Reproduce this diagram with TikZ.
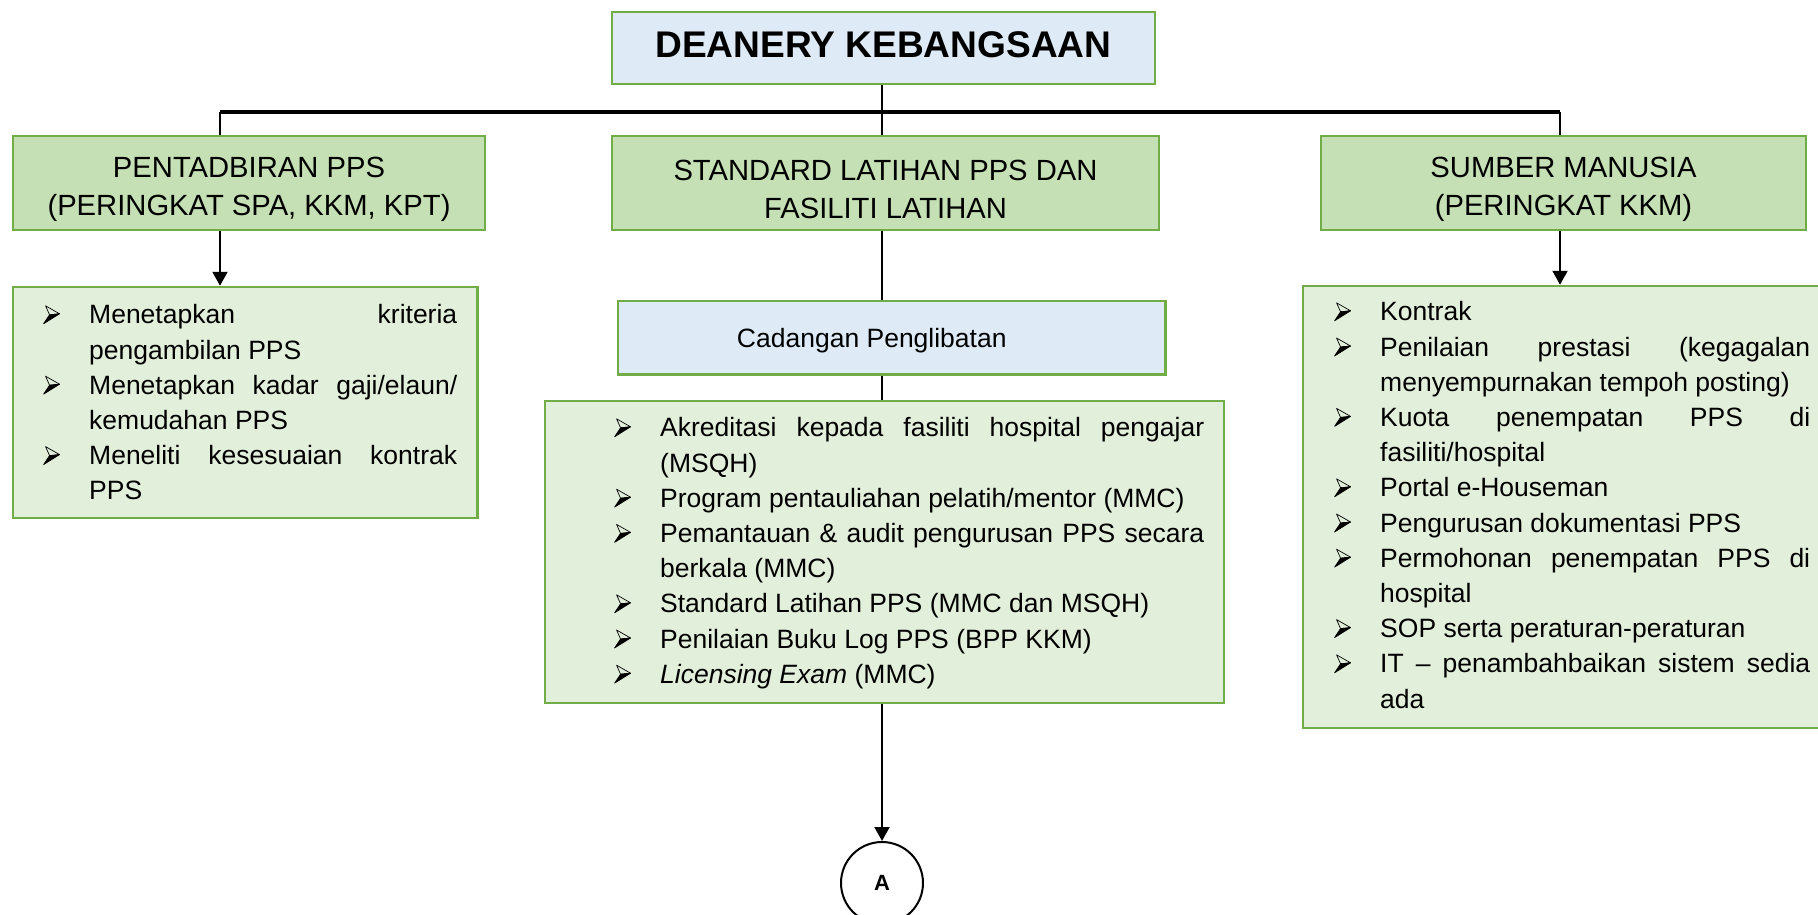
\documentclass[tikz,border=0pt]{standalone}
\usepackage{fontspec}
\setmainfont{Liberation Sans}
\usetikzlibrary{arrows.meta}
\definecolor{headgreen}{HTML}{C5E0B4}
\definecolor{listgreen}{HTML}{E2EFDA}
\definecolor{paleblue}{HTML}{DEEBF7}
\definecolor{edgegreen}{HTML}{70AD47}
\hyphenpenalty=10000
\exhyphenpenalty=10000
\tolerance=10000
\newcommand{\arrowbul}{\makebox[46pt][l]{\tikz[x=1pt, y=1pt, baseline=0pt, line width=0.7pt, line join=round]{%
	\filldraw[black] (0, 0) -- (16, 10) -- (6, 9) -- cycle;
	\draw[black] (2, 18) -- (16, 10) -- (6, 9) -- cycle;}}}
\newcommand{\bul}[1]{\par\noindent\hangindent=46pt\hangafter=1\strut\arrowbul#1\par}
\tikzset{
  headbox/.style={draw=edgegreen, line width=2.5pt, fill=headgreen, align=center, font=\fontsize{29.2}{38.5}\selectfont},
  listbox/.style={draw=edgegreen, line width=2.5pt, fill=listgreen},
  bluebox/.style={draw=edgegreen, line width=2.5pt, fill=paleblue},
  listtext/.style={anchor=north west, inner sep=0pt, align=justify, font=\fontsize{26.5}{35.2}\selectfont},
  link/.style={line width=2pt},
  arrowlink/.style={line width=2pt, -{Triangle[width=15pt,length=14pt]}}
}

\begin{document}
\begin{tikzpicture}[x=1pt, y=-1pt]
			%%%%% START %%%%%
			\useasboundingbox (0, 0) rectangle (1818, 915);
			
			\node[bluebox, minimum width=543pt, minimum height=72pt, font=\bfseries\fontsize{37.1}{44}\selectfont] (deanery) at (883.5, 48) {DEANERY KEBANGSAAN\rule[-7pt]{0pt}{7pt}};
			
			\node[headbox, minimum width=472pt, minimum height=94pt] (pentadbiran) at (249, 183) {\rule{0pt}{33pt}PENTADBIRAN PPS\\(PERINGKAT SPA, KKM, KPT)};
			\node[headbox, minimum width=547pt, minimum height=94pt] (standard) at (885.5, 183) {\rule{0pt}{33pt}STANDARD LATIHAN PPS DAN\\FASILITI LATIHAN};
			\node[headbox, minimum width=485pt, minimum height=94pt] (sumber) at (1563.5, 183) {\rule{0pt}{33pt}SUMBER MANUSIA\\(PERINGKAT KKM)};
			
			\node[bluebox, minimum width=547.5pt, minimum height=73.6pt, font=\fontsize{26.5}{32}\selectfont] (cadangan) at (891.8, 337.8) {\rule{0pt}{24pt}Cadangan Penglibatan\rule{40pt}{0pt}};
			
			\node[listbox, minimum width=464.5pt, minimum height=231pt] (pentadlist) at (245.3, 402.5) {};
			\node[listtext, text width=414pt] (pentadtext) at (43, 288.4) {%
				\bul{Menetapkan kriteria \linebreak pengambilan PPS}
				\bul{Menetapkan kadar gaji/elaun/ \linebreak kemudahan PPS}
				\bul{Meneliti kesesuaian kontrak \linebreak PPS}};
			
			\node[listbox, minimum width=679pt, minimum height=302pt] (standardlist) at (884.5, 552) {};
			\node[listtext, text width=590pt] (standardtext) at (614, 401.4) {%
				\bul{Akreditasi kepada fasiliti hospital pengajar \linebreak (MSQH)}
				\bul{Program pentauliahan pelatih/mentor (MMC)}
				\bul{Pemantauan \& audit pengurusan PPS secara \linebreak berkala (MMC)}
				\bul{Standard Latihan PPS (MMC dan MSQH)}
				\bul{Penilaian Buku Log PPS (BPP KKM)}
				\bul{\textit{Licensing Exam} (MMC)}};
			
			\node[listbox, minimum width=527pt, minimum height=442pt] (sumberlist) at (1566.5, 507) {};
			\node[listtext, text width=476pt] (sumbertext) at (1334, 285.4) {%
				\bul{Kontrak}
				\bul{Penilaian prestasi (kegagalan \linebreak menyempurnakan tempoh posting)}
				\bul{Kuota penempatan PPS di \linebreak fasiliti/hospital}
				\bul{Portal e-Houseman}
				\bul{Pengurusan dokumentasi PPS}
				\bul{Permohonan penempatan PPS di \linebreak hospital}
				\bul{SOP serta peraturan-peraturan}
				\bul{IT -- penambahbaikan sistem sedia \linebreak ada}};
			
			\node[draw, circle, line width=2pt, minimum size=82pt, inner sep=0pt, font=\bfseries\fontsize{22}{22}\selectfont] (A) at (882, 883) {A};
			
			\coordinate (busleft) at (220, 112);
			\coordinate (busright) at (1560, 112);
			\draw[line width=4pt] (busleft) -- (busright);
			
			\draw[link] (deanery.south -| A) -- (standard.north -| A);
			\draw[link] (busleft) -- (busleft |- pentadbiran.north);
			\draw[link] (busright) -- (busright |- sumber.north);
			
			\draw[arrowlink] (busleft |- pentadbiran.south) -- (busleft |- pentadlist.north);
			\draw[arrowlink] (busright |- sumber.south) -- (busright |- sumberlist.north);
			
			\draw[link] (standard.south -| A) -- (cadangan.north -| A);
			\draw[link] (cadangan.south -| A) -- (standardlist.north -| A);
			\draw[arrowlink] (standardlist.south -| A) -- (A);
			%%%%% END %%%%%
\end{tikzpicture}
\end{document}
